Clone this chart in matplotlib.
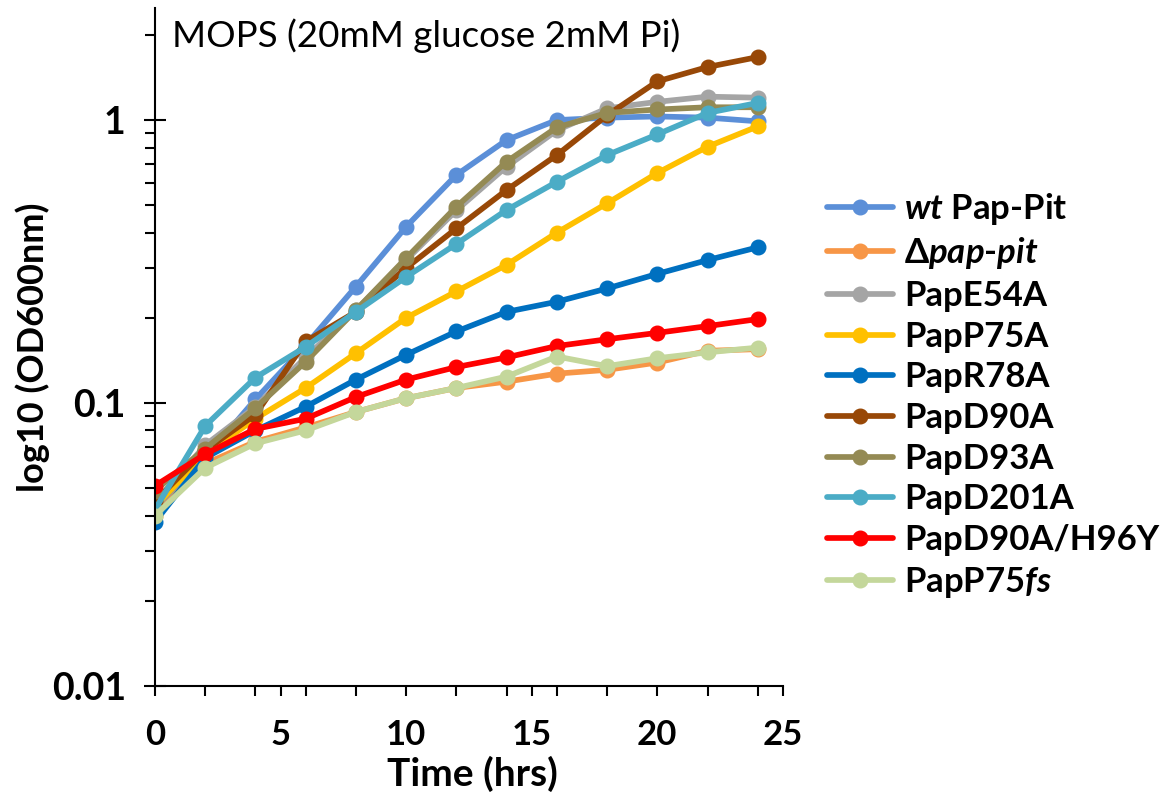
import numpy as np
import matplotlib
matplotlib.use('Agg')
import matplotlib.pyplot as plt
from matplotlib.ticker import MultipleLocator, LogLocator, FixedFormatter, FixedLocator, NullFormatter

plt.rcParams['font.family'] = ['Lato', 'DejaVu Sans']
plt.rcParams['mathtext.fontset'] = 'custom'
plt.rcParams['mathtext.it'] = 'Lato:italic:bold'
plt.rcParams['mathtext.rm'] = 'Lato:bold'

# time points (hrs)
hours = [0, 2, 4, 6, 8, 10, 12, 14, 16, 18, 20, 22, 24]

# OD600 readings per strain
wt_pap_pit = [0.041, 0.064, 0.103, 0.160, 0.258, 0.420, 0.640, 0.850, 1.00, 1.02, 1.03, 1.02, 0.99]
delta_pap_pit = [0.040, 0.061, 0.073, 0.082, 0.093, 0.104, 0.113, 0.119, 0.127, 0.131, 0.139, 0.153, 0.155]
pap_e54a = [0.044, 0.071, 0.097, 0.145, 0.213, 0.320, 0.480, 0.685, 0.92, 1.10, 1.16, 1.21, 1.20]
pap_p75a = [0.043, 0.066, 0.088, 0.113, 0.150, 0.200, 0.248, 0.308, 0.400, 0.508, 0.650, 0.805, 0.950]
pap_r78a = [0.038, 0.064, 0.080, 0.097, 0.121, 0.148, 0.179, 0.210, 0.228, 0.254, 0.286, 0.320, 0.355]
pap_d90a = [0.045, 0.068, 0.091, 0.165, 0.210, 0.300, 0.414, 0.566, 0.752, 1.04, 1.37, 1.54, 1.67]
pap_d93a = [0.049, 0.069, 0.096, 0.140, 0.213, 0.325, 0.494, 0.713, 0.942, 1.06, 1.09, 1.11, 1.11]
pap_d201a = [0.042, 0.083, 0.123, 0.158, 0.210, 0.279, 0.365, 0.481, 0.605, 0.752, 0.890, 1.06, 1.15]
pap_d90a_h96y = [0.051, 0.066, 0.081, 0.088, 0.105, 0.121, 0.134, 0.145, 0.159, 0.168, 0.177, 0.187, 0.198]
pap_p75fs = [0.040, 0.059, 0.072, 0.080, 0.093, 0.104, 0.113, 0.124, 0.146, 0.135, 0.144, 0.151, 0.157]

labels = [r'$\mathit{wt}$ Pap-Pit', r'Δ$\mathit{pap}$-$\mathit{pit}$', 'PapE54A', 'PapP75A', 'PapR78A',
          'PapD90A', 'PapD93A', 'PapD201A', 'PapD90A/H96Y', r'PapP75$\mathit{fs}$']
series = [wt_pap_pit, delta_pap_pit, pap_e54a, pap_p75a, pap_r78a,
          pap_d90a, pap_d93a, pap_d201a, pap_d90a_h96y, pap_p75fs]
colors = ['#5B8FD8', '#F79646', '#A5A5A5', '#FFC000', '#0070C0',
          '#984807', '#948A54', '#4BACC6', '#FF0000', '#C4D79B']

fig = plt.figure(figsize=(11.65, 7.98), dpi=100)
ax = fig.add_axes([0.133, 0.1404, 0.539, 0.8496])

for vals, lab, col in zip(series, labels, colors):
    ax.plot(hours, vals, color=col, lw=4.1, marker='o', ms=10.5, label=lab,
            solid_capstyle='round')

ax.set_yscale('log')
ax.set_ylim(0.01, 2.49)
ax.set_xlim(0, 25)

ax.xaxis.set_major_locator(MultipleLocator(5))
ax.xaxis.set_minor_locator(MultipleLocator(2))
ax.yaxis.set_major_locator(FixedLocator([0.01, 0.1, 1]))
ax.yaxis.set_major_formatter(FixedFormatter(['0.01', '0.1', '1']))
ax.yaxis.set_minor_locator(LogLocator(base=10, subs=np.arange(2, 10)))
ax.yaxis.set_minor_formatter(NullFormatter())

for s in ['top', 'right']:
    ax.spines[s].set_visible(False)
for s in ['left', 'bottom']:
    ax.spines[s].set_linewidth(1.5)

ax.tick_params(axis='x', which='both', direction='out', length=7, width=1.5,
               labelsize=25, pad=17)
ax.tick_params(axis='y', which='major', direction='inout', length=16, width=1.5,
               labelsize=27, pad=13)
ax.tick_params(axis='y', which='minor', direction='out', length=7, width=1.5)
for t in ax.get_xticklabels() + ax.get_yticklabels():
    t.set_fontweight('bold')

ax.set_xlabel('Time (hrs)', fontsize=28, fontweight='bold')
ax.xaxis.set_label_coords(0.505, -0.103)
ax.set_ylabel('log10 (OD600nm)', fontsize=26, fontweight='bold')
ax.yaxis.set_label_coords(-0.167, 0.5)

ax.text(0.027, 0.985, 'MOPS (20mM glucose 2mM Pi)', transform=ax.transAxes,
        fontsize=26.5, va='top', ha='left')

leg = ax.legend(loc='upper left', bbox_to_anchor=(1.048, 0.751), frameon=False,
                fontsize=25, handlelength=1.9, labelspacing=0.25, handletextpad=0.32,
                borderaxespad=0)
for t in leg.get_texts():
    t.set_fontweight('bold')

fig.savefig('out.png', dpi=100)
